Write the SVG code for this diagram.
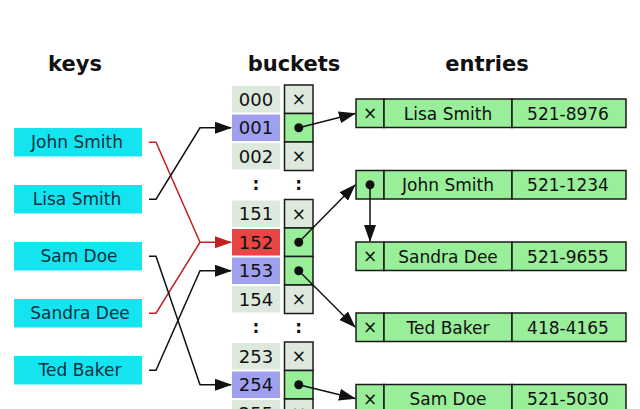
<svg xmlns="http://www.w3.org/2000/svg" width="640" height="409" viewBox="0 0 640 409">
<style>
text{font-family:"DejaVu Sans","Liberation Sans",sans-serif;fill:#111;}
.h{font-size:21px;font-weight:bold;text-anchor:middle;}
.k{fill:#14e4f0;}
.kt{font-size:17px;text-anchor:middle;fill:#103040;}
.n{fill:#dde9dd;}
.nb{fill:#a0a0f0;}
.nr{fill:#e84545;}
.nt{font-size:18px;text-anchor:middle;}
.px{fill:#dde9dd;stroke:#1a1a1a;stroke-width:1.5;}
.pd{fill:#99ee99;stroke:#1a1a1a;stroke-width:1.5;}
.x{font-size:17px;text-anchor:middle;}
.et{font-size:17px;text-anchor:middle;}
.c{fill:none;stroke:#111;stroke-width:1.5;}
.r{fill:none;stroke:#c42020;stroke-width:1.5;}
.d{fill:#111;}
.col{font-size:17px;font-weight:bold;text-anchor:middle;}
</style>
<defs>
<marker id="a" markerUnits="userSpaceOnUse" markerWidth="17" markerHeight="12" refX="16" refY="6" orient="auto"><path d="M0,0 L17,6 L0,12 Z" fill="#111"/></marker>
<marker id="ar" markerUnits="userSpaceOnUse" markerWidth="17" markerHeight="12" refX="16" refY="6" orient="auto"><path d="M0,0 L17,6 L0,12 Z" fill="#c42020"/></marker>
</defs>
<g id="headers">
<text class="h" x="75" y="71">keys</text>
<text class="h" x="294" y="71">buckets</text>
<text class="h" x="487" y="71">entries</text>
</g>
<g id="keys">
<g id="key-john"><rect class="k" x="14" y="128" width="128" height="28.5"/><text class="kt" x="77" y="148">John Smith</text></g>
<g id="key-lisa"><rect class="k" x="14" y="185" width="128" height="28.5"/><text class="kt" x="77" y="205">Lisa Smith</text></g>
<g id="key-sam"><rect class="k" x="14" y="242" width="128" height="28.5"/><text class="kt" x="79" y="262">Sam Doe</text></g>
<g id="key-sandra"><rect class="k" x="14" y="299" width="128" height="28.5"/><text class="kt" x="80" y="319">Sandra Dee</text></g>
<g id="key-ted"><rect class="k" x="14" y="356" width="128" height="28.5"/><text class="kt" x="80" y="376">Ted Baker</text></g>
</g>
<g id="buckets">
<g id="b000"><rect class="n" x="232" y="86" width="48" height="26.5"/><text class="nt" x="256" y="105.5">000</text><rect class="px" x="284.5" y="85" width="28.5" height="28.5"/><text class="x" x="298.75" y="105">×</text></g>
<g id="b001"><rect class="nb" x="232" y="114.5" width="48" height="26.5"/><text class="nt" x="256" y="134">001</text><rect class="pd" x="284.5" y="113.5" width="28.5" height="28.5"/><circle class="d" cx="298.75" cy="127.75" r="4.5"/></g>
<g id="b002"><rect class="n" x="232" y="143" width="48" height="26.5"/><text class="nt" x="256" y="162.5">002</text><rect class="px" x="284.5" y="142" width="28.5" height="28.5"/><text class="x" x="298.75" y="162">×</text></g>
<g id="dots1"><text class="col" x="256" y="190">:</text><text class="col" x="298.75" y="190">:</text></g>
<g id="b151"><rect class="n" x="232" y="200.5" width="48" height="26.5"/><text class="nt" x="256" y="220">151</text><rect class="px" x="284.5" y="199.5" width="28.5" height="28.5"/><text class="x" x="298.75" y="219.5">×</text></g>
<g id="b152"><rect class="nr" x="232" y="229" width="48" height="26.5"/><text class="nt" x="256" y="248.5">152</text><rect class="pd" x="284.5" y="228" width="28.5" height="28.5"/><circle class="d" cx="298.75" cy="242.25" r="4.5"/></g>
<g id="b153"><rect class="nb" x="232" y="257.5" width="48" height="26.5"/><text class="nt" x="256" y="277">153</text><rect class="pd" x="284.5" y="256.5" width="28.5" height="28.5"/><circle class="d" cx="298.75" cy="270.75" r="4.5"/></g>
<g id="b154"><rect class="n" x="232" y="286" width="48" height="26.5"/><text class="nt" x="256" y="305.5">154</text><rect class="px" x="284.5" y="285" width="28.5" height="28.5"/><text class="x" x="298.75" y="305">×</text></g>
<g id="dots2"><text class="col" x="256" y="333">:</text><text class="col" x="298.75" y="333">:</text></g>
<g id="b253"><rect class="n" x="232" y="343" width="48" height="26.5"/><text class="nt" x="256" y="362.5">253</text><rect class="px" x="284.5" y="342" width="28.5" height="28.5"/><text class="x" x="298.75" y="362">×</text></g>
<g id="b254"><rect class="nb" x="232" y="371.5" width="48" height="26.5"/><text class="nt" x="256" y="391">254</text><rect class="pd" x="284.5" y="370.5" width="28.5" height="28.5"/><circle class="d" cx="298.75" cy="384.75" r="4.5"/></g>
<g id="b255"><rect class="n" x="232" y="400" width="48" height="26.5"/><text class="nt" x="256" y="419.5">255</text><rect class="px" x="284.5" y="399" width="28.5" height="28.5"/><text class="x" x="298.75" y="419">×</text></g>
</g>
<g id="entries">
<g id="e-lisa"><rect class="pd" x="356" y="99" width="28" height="28.5"/><rect class="pd" x="384" y="99" width="128" height="28.5"/><rect class="pd" x="512" y="99" width="114" height="28.5"/><text class="x" x="370" y="119">×</text><text class="et" x="448" y="119.5">Lisa Smith</text><text class="et" x="568" y="119.5">521-8976</text></g>
<g id="e-john"><rect class="pd" x="356" y="170.5" width="28" height="28.5"/><rect class="pd" x="384" y="170.5" width="128" height="28.5"/><rect class="pd" x="512" y="170.5" width="114" height="28.5"/><circle class="d" cx="370" cy="184.75" r="4.5"/><text class="et" x="448" y="191">John Smith</text><text class="et" x="568" y="191">521-1234</text></g>
<g id="e-sandra"><rect class="pd" x="356" y="242" width="28" height="28.5"/><rect class="pd" x="384" y="242" width="128" height="28.5"/><rect class="pd" x="512" y="242" width="114" height="28.5"/><text class="x" x="370" y="262">×</text><text class="et" x="448" y="262.5">Sandra Dee</text><text class="et" x="568" y="262.5">521-9655</text></g>
<g id="e-ted"><rect class="pd" x="356" y="313" width="28" height="28.5"/><rect class="pd" x="384" y="313" width="128" height="28.5"/><rect class="pd" x="512" y="313" width="114" height="28.5"/><text class="x" x="370" y="333">×</text><text class="et" x="448" y="333.5">Ted Baker</text><text class="et" x="568" y="333.5">418-4165</text></g>
<g id="e-sam"><rect class="pd" x="356" y="384.5" width="28" height="28.5"/><rect class="pd" x="384" y="384.5" width="128" height="28.5"/><rect class="pd" x="512" y="384.5" width="114" height="28.5"/><text class="x" x="370" y="404.5">×</text><text class="et" x="448" y="405">Sam Doe</text><text class="et" x="568" y="405">521-5030</text></g>
</g>
<g id="connectors">
<path class="r" d="M149,142.25 H156 L200,242.25 H231" marker-end="url(#ar)"/>
<path class="r" d="M149,313.25 H156 L200,242.25"/>
<path class="c" d="M149,199.25 H156 L200,127.75 H231" marker-end="url(#a)"/>
<path class="c" d="M149,256.25 H156 L200,384.75 H231" marker-end="url(#a)"/>
<path class="c" d="M149,370.25 H156 L200,270.75 H231" marker-end="url(#a)"/>
<path class="c" d="M298.75,127.75 L355,113.5" marker-end="url(#a)"/>
<path class="c" d="M298.75,242.25 L355,185" marker-end="url(#a)"/>
<path class="c" d="M298.75,270.75 L355,327" marker-end="url(#a)"/>
<path class="c" d="M298.75,384.75 L355,398.5" marker-end="url(#a)"/>
<path class="c" d="M370,184.75 V241" marker-end="url(#a)"/>
</g>
</svg>
